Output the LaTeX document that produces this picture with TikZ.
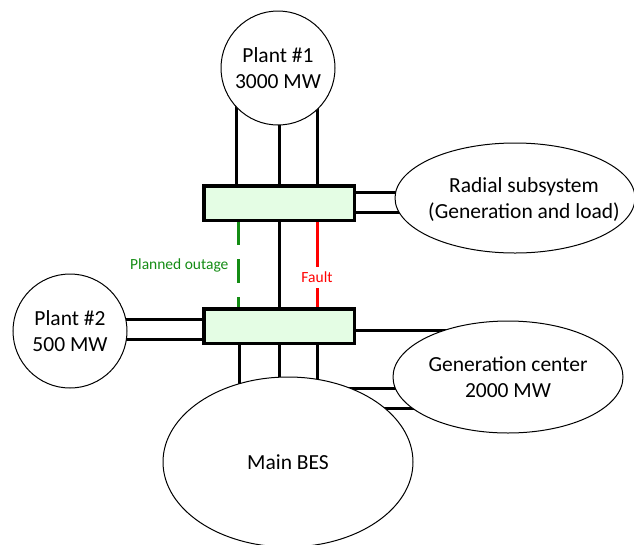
\documentclass[tikz,border=0pt]{standalone}
\usepackage{fontspec}
\setmainfont{Carlito}
\usetikzlibrary{shapes.geometric,backgrounds,calc}
\definecolor{boxfill}{RGB}{228,253,228}
\definecolor{outgreen}{RGB}{20,140,20}
\begin{document}
\begin{tikzpicture}[x=1pt,y=-1pt,
  every node/.style={font=\fontsize{21.5}{26}\selectfont},
  plant/.style={circle,draw,line width=1pt,fill=white,minimum size=114pt,inner sep=0pt,align=center},
  region/.style={ellipse,draw,line width=1pt,fill=white,inner sep=0pt,align=center},
  bus/.style={rectangle,draw,line width=3.5pt,fill=boxfill,minimum width=150.5pt,minimum height=34.5pt,inner sep=0pt},
  link/.style={line width=3pt},
  small/.style={font=\fontsize{15.5}{18}\selectfont}
  ]
\useasboundingbox (0,0) rectangle (634,544);

\node[plant] (p1) at (278,68) {Plant \#1\\3000 MW};
\node[plant] (p2) at (70,331) {Plant \#2\\500 MW};
\node[bus] (b1) at (279,203) {};
\node[bus] (b2) at (279,326) {};
\node[region,minimum width=240pt,minimum height=110pt] (rad) at (515,198) {};
\node[align=center] (radt) at (524,200) {Radial subsystem\\(Generation and load)};
\node[region,minimum width=230pt,minimum height=112pt] (gen) at (508,377) {Generation center\\2000 MW};
\node[region,minimum width=250pt,minimum height=170pt] (bes) at (288,462) {Main BES};

\node[small,text=outgreen,anchor=east] (po) at (232,265) {Planned outage};

\begin{scope}[on background layer]
  % Plant 1 to upper bus
  \draw[link] ($(b1.center)+(-43,0)$) -- ($(p1.center)+(-42,0)$);
  \draw[link] ($(b1.center)+(0,0)$) -- ($(p1.center)+(1,0)$);
  \draw[link] ($(b1.center)+(38,0)$) -- ($(p1.center)+(39,0)$);
  % upper bus to radial subsystem
  \draw[link] ($(b1.center)+(0,-11)$) -- ($(rad.center)+(0,-6)$);
  \draw[link] ($(b1.center)+(0,9)$) -- ($(rad.center)+(0,14)$);
  % between buses
  \draw[link,outgreen,dash pattern=on 24pt off 14pt,dash phase=1pt]
    ($(b1.south)+(-41,0)$) -- ($(b2.north)+(-41,0)$);
  \draw[link] (b1.center) -- (b2.center);
  \draw[link,red] ($(b1.center)+(38,0)$) -- ($(b2.center)+(38,0)$);
  % plant 2 to lower bus
  \draw[link] ($(p2.center)+(0,-12)$) -- ($(b2.center)+(0,-7)$);
  \draw[link] ($(p2.center)+(0,8)$) -- ($(b2.center)+(0,13)$);
  % lower bus to generation center
  \draw[link] ($(b2.center)+(0,4.5)$) -- ($(gen.center)+(0,-46.5)$);
  % lower bus to main BES
  \draw[link] ($(b2.center)+(-40,0)$) -- ($(bes.center)+(-49,0)$);
  \draw[link] ($(b2.center)+(0,0)$) -- ($(bes.center)+(-9,0)$);
  \draw[link] ($(b2.center)+(38,0)$) -- ($(bes.center)+(29,0)$);
  % main BES to generation center
  \draw[link] ($(bes.center)+(0,-74)$) -- ($(gen.center)+(0,11)$);
  \draw[link] ($(bes.center)+(0,-54)$) -- ($(gen.center)+(0,31)$);
\end{scope}

\node[small,text=red,fill=white,inner xsep=1pt,inner ysep=0pt,minimum height=21pt] (fault) at (317,277) {Fault};
\end{tikzpicture}
\end{document}
